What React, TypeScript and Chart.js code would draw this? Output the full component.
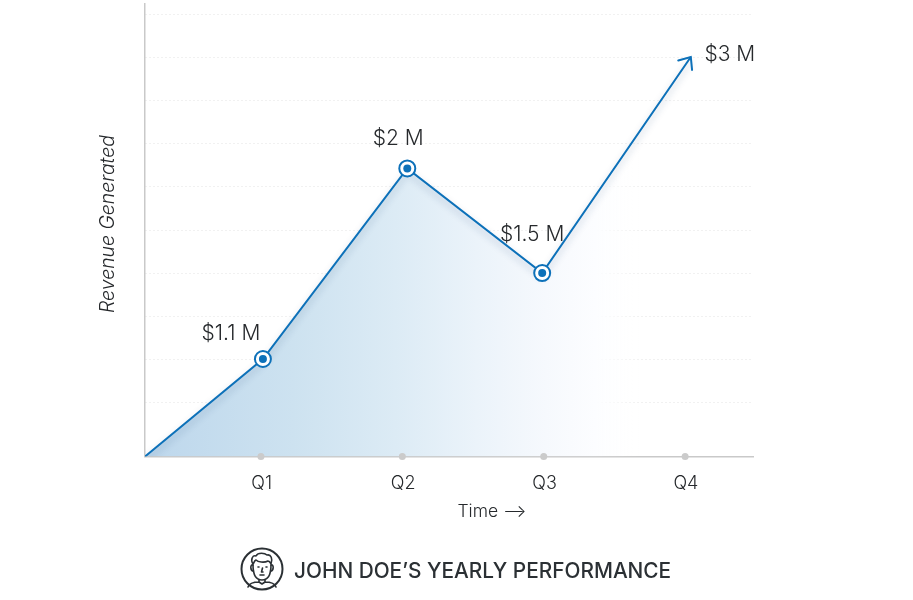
import React, { useEffect, useRef } from "react";
import { Chart, registerables } from "chart.js";

Chart.register(...registerables);

// Horizontal position on the quarter axis (1 = Q1 ... 4 = Q4)
const quarterPositions = [0.18, 1.014, 2.035, 2.989, 4.04];
// Plotted height of the curve (the picture's curve is illustrative, not proportional to labels)
const plottedLevels = [0, 0.677, 2, 1.274, 2.774];
const valueLabels = ["", "$1.1 M", "$2 M", "$1.5 M", "$3 M"];
const quarterTicks = [1, 2, 3, 4];
const quarterLabels = ["Q1", "Q2", "Q3", "Q4"];
const gridLevels = [0.372, 0.672, 0.972, 1.272, 1.572, 1.872, 2.172, 2.472, 2.772, 3.072];
const yAxisTitle = "Revenue Generated";
const xAxisTitle = "Time ⟶";
const chartTitle = "JOHN DOE’S YEARLY PERFORMANCE";

const FONT = "Inter, 'Open Sans', sans-serif";
const BLUE = "#0d71b9";
const TEXT = "#26292c";

const pts = quarterPositions.map((x, i) => ({ x, y: plottedLevels[i] }));
const markers = pts.slice(1, 4);

const extras = {
  id: "extras",
  beforeDatasetDraw(chart: any, args: any) {
    if (args.index === 1) {
      const c = chart.ctx;
      c.save();
      c.shadowColor = "rgba(20,60,110,0.28)";
      c.shadowBlur = 7;
      c.shadowOffsetY = 4;
    }
  },
  afterDatasetDraw(chart: any, args: any) {
    if (args.index === 1) chart.ctx.restore();
  },
  afterDraw(chart: any) {
    const c = chart.ctx;
    const sx = chart.scales.x;
    const sy = chart.scales.y;
    // arrow head on last point
    const n = pts.length - 1;
    const tx = sx.getPixelForValue(pts[n].x);
    const ty = sy.getPixelForValue(pts[n].y);
    const px = sx.getPixelForValue(pts[n - 1].x);
    const py = sy.getPixelForValue(pts[n - 1].y);
    const a = Math.atan2(ty - py, tx - px);
    c.save();
    c.strokeStyle = BLUE;
    c.lineWidth = 2;
    c.lineCap = "round";
    c.lineJoin = "miter";
    c.beginPath();
    c.moveTo(tx + 13 * Math.cos(a + 2.44), ty + 13 * Math.sin(a + 2.44));
    c.lineTo(tx, ty);
    c.lineTo(tx + 13 * Math.cos(a - 2.44), ty + 13 * Math.sin(a - 2.44));
    c.stroke();
    c.restore();

    // value labels
    const offsets = [[0, 0], [-32, -25], [-9, -30], [-10, -38], [39, -2]];
    c.save();
    c.fillStyle = TEXT;
    c.textAlign = "center";
    c.textBaseline = "middle";
    c.font = `300 21px ${FONT}`;
    valueLabels.forEach((t, i) => {
      if (!t) return;
      c.fillText(t, sx.getPixelForValue(pts[i].x) + offsets[i][0], sy.getPixelForValue(pts[i].y) + offsets[i][1]);
    });
    c.font = `300 17.5px ${FONT}`;
    c.fillText(xAxisTitle, 492, 512);
    c.save();
    c.translate(108, 224);
    c.rotate(-Math.PI / 2);
    c.font = `italic 300 19.4px ${FONT}`;
    c.fillText(yAxisTitle, 0, 0);
    c.restore();
    c.font = `500 20.8px ${FONT}`;
    c.textAlign = "left";
    c.fillStyle = "#2b3034";
    c.fillText(chartTitle, 294, 572);

    // person icon
    c.strokeStyle = "#2b3034";
    c.lineWidth = 2;
    c.lineCap = "round";
    c.lineJoin = "round";
    c.translate(262, 569);
    c.beginPath();
    c.arc(0, 0, 20.5, 0, Math.PI * 2);
    c.stroke();
    c.lineWidth = 1.6;
    const draw = (d: string) => c.stroke(new Path2D(d));
    draw("M-9 -4 C-9 8 -5 11 0 11 C5 11 9 8 9 -4");
    draw("M-9 -4 C-12 -5 -12 2 -8.5 2 M9 -4 C12 -5 12 2 8.5 2");
    draw("M-9 -5 C-12 -10 -9 -14 -6 -13 C-4 -17 3 -16 5 -14 C9 -15 11 -10 9 -5 C8 -7 7 -8 6 -8 C2 -6 -4 -7 -6 -9 C-8 -8 -8 -6 -9 -5 Z");
    draw("M-4 -2 L-3 -2 M4 -2 L5 -2 M0.5 -1 L-0.5 3 L1 3 M-2 6 L2 6");
    draw("M-3 11 L-3 13 L0 15 L3 13 L3 11 M-3 13 C-9 13 -13 15 -14 18 M3 13 C9 13 13 15 14 18");
    c.restore();
  },
};

export default function App() {
  const ref = useRef<HTMLCanvasElement>(null);
  useEffect(() => {
    const ctx = ref.current!.getContext("2d")!;
    const grad = ctx.createLinearGradient(145, 0, 640, 0);
    grad.addColorStop(0, "#bdd7ec");
    grad.addColorStop(0.3, "#cde2f0");
    grad.addColorStop(0.505, "#dcebf5");
    grad.addColorStop(0.67, "#ebf3fa");
    grad.addColorStop(0.81, "#f6f9fd");
    grad.addColorStop(0.91, "#fcfdff");
    grad.addColorStop(1, "rgba(255,255,255,0)");
    const chart = new Chart(ref.current!, {
      type: "line",
      data: {
        datasets: [
          { data: pts, borderWidth: 0, borderColor: "transparent", pointRadius: 0, fill: "origin", backgroundColor: grad, order: 4 } as any,
          { data: pts, borderColor: BLUE, borderWidth: 2, pointRadius: 0, fill: false, order: 2 } as any,
          {
            data: quarterTicks.map((x) => ({ x, y: 0 })),
            showLine: false, pointRadius: 3.5, pointBackgroundColor: "#cbcbcb", pointBorderWidth: 0, clip: false, order: 3,
          } as any,
          {
            data: markers, showLine: false, pointRadius: 8, pointBackgroundColor: "#fff",
            pointBorderColor: BLUE, pointBorderWidth: 2, order: 1,
          } as any,
          {
            data: markers, showLine: false, pointRadius: 4, pointBackgroundColor: BLUE, pointBorderWidth: 0, order: 0,
          } as any,
        ],
      },
      options: {
        animation: false,
        responsive: false,
        layout: { autoPadding: false, padding: { top: 4, right: 160, left: 0, bottom: 0 } },
        plugins: { legend: { display: false }, tooltip: { enabled: false } },
        scales: {
          x: {
            type: "linear",
            min: 0.18,
            max: 4.48,
            afterBuildTicks: (s: any) => { s.ticks = quarterTicks.map((value) => ({ value })); },
            afterFit: (s: any) => { s.height = 143.5; },
            grid: { display: false },
            border: { color: "#c9c9c9", width: 1.5 },
            ticks: {
              autoSkip: false,
              maxRotation: 0,
              padding: 8,
              labelOffset: 0.8,
              color: TEXT,
              font: { family: FONT, size: 18, weight: "300" },
              callback: (v: any) => quarterLabels[quarterTicks.indexOf(v)] ?? "",
            },
          },
          y: {
            type: "linear",
            min: 0,
            max: 3.142,
            afterBuildTicks: (s: any) => { s.ticks = gridLevels.map((value) => ({ value })); },
            afterFit: (s: any) => { s.width = 145; },
            border: { color: "#c9c9c9", width: 1.5, dash: [1, 3] },
            grid: { color: "#e2e2e2", lineWidth: 1, tickLength: 0, drawTicks: false },
            ticks: { display: false },
          },
        },
      },
      plugins: [extras],
    } as any);
    return () => chart.destroy();
  }, []);
  return (
    <div style={{ position: "fixed", left: 0, top: 0, width: 913, height: 600, background: "#fff" }}>
      <canvas ref={ref} width={913} height={600} style={{ display: "block" }} />
    </div>
  );
}
